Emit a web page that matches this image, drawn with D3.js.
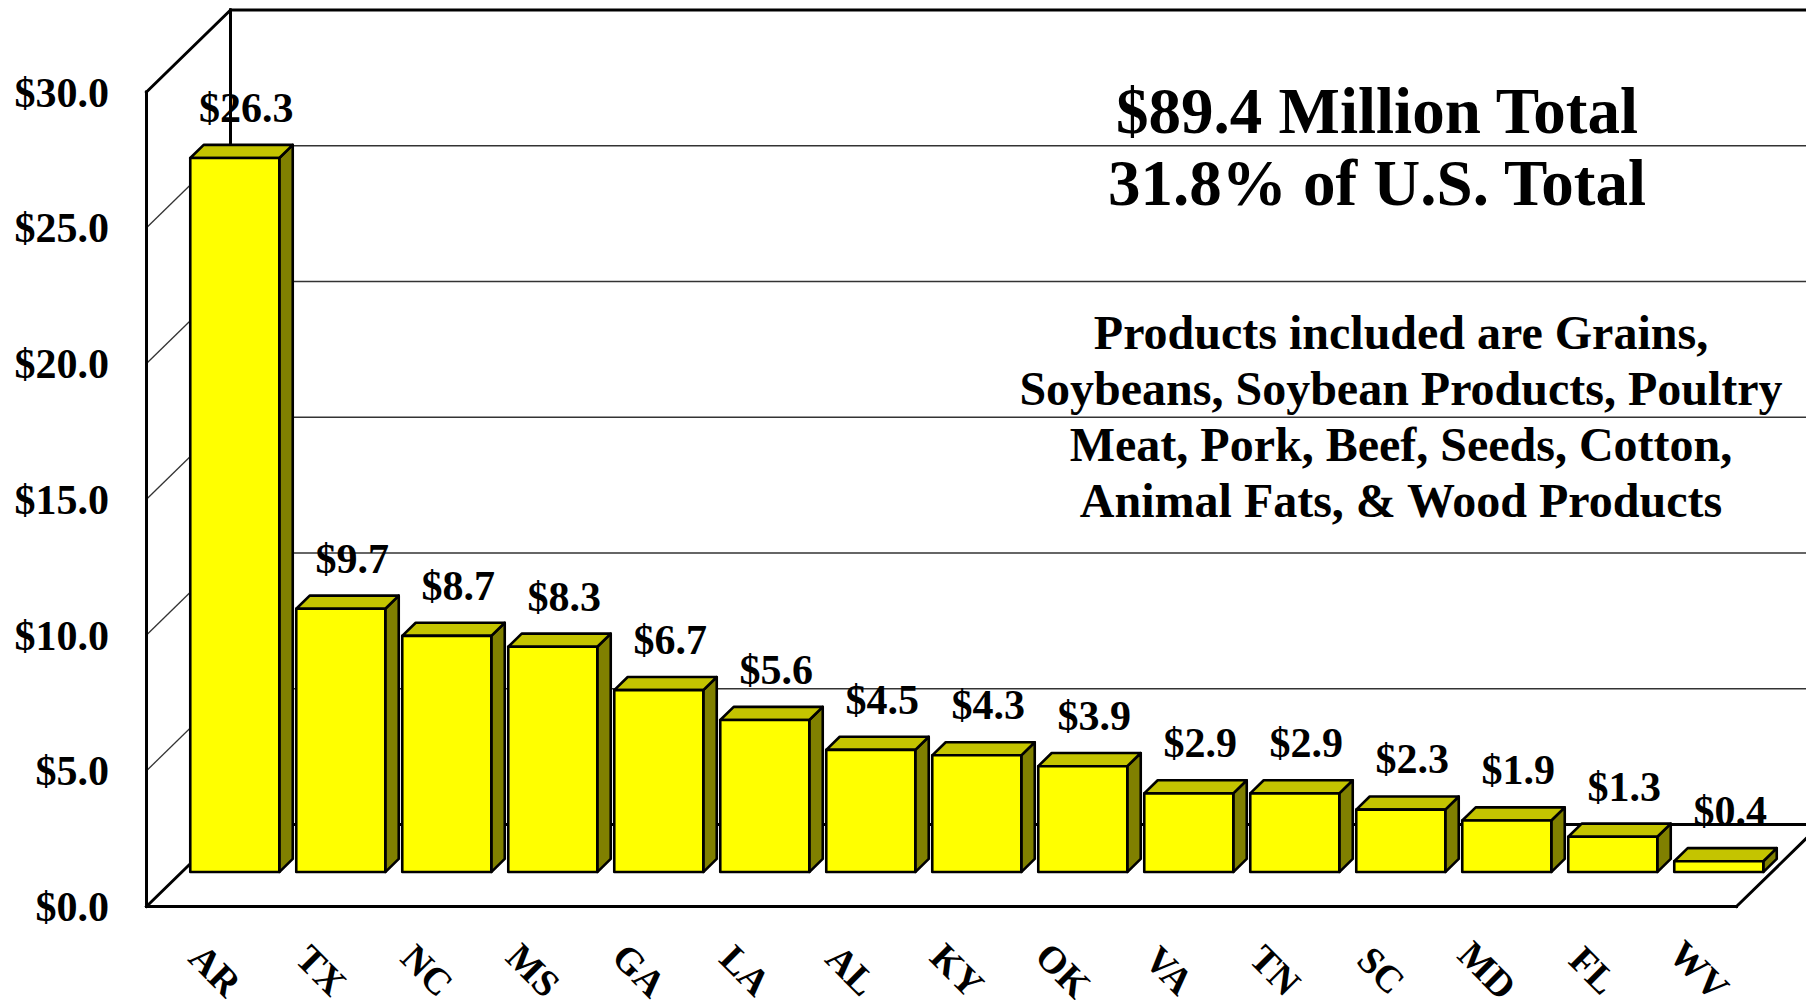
<!DOCTYPE html>
<html>
<head>
<meta charset="utf-8">
<script src="https://cdn.jsdelivr.net/npm/d3@7"></script>
<style>
  html, body { margin: 0; padding: 0; background: #fff; }
  svg { display: block; }
  text { font-family: "Liberation Serif", "Times New Roman", serif; font-weight: bold; fill: #000; }
</style>
</head>
<body>
<svg id="chart" width="1806" height="1000"></svg>
<script>
// ---- data ----
const states = ["AR","TX","NC","MS","GA","LA","AL","KY","OK","VA","TN","SC","MD","FL","WV"];
const values = [26.3, 9.7, 8.7, 8.3, 6.7, 5.6, 4.5, 4.3, 3.9, 2.9, 2.9, 2.3, 1.9, 1.3, 0.4];
const yTicks = [0, 5, 10, 15, 20, 25, 30];
const titleLines = ["$89.4 Million Total", "31.8% of U.S. Total"];
const noteLines = [
  "Products included are Grains,",
  "Soybeans, Soybean Products, Poultry",
  "Meat, Pork, Beef, Seeds, Cotton,",
  "Animal Fats, & Wood Products"
];

// ---- geometry ----
const svg = d3.select("#chart");
const frontLeft = 146.5, frontRight = 1736.5, floorY = 906.5, topY = 92;
const depthX = 84, depthY = -82;

const x = d3.scaleBand().domain(states).range([frontLeft, frontRight]).paddingInner(0.16).paddingOuter(0.08);
const y = d3.scaleLinear().domain([0, 30]).range([floorY, topY]);
const z = d3.scaleLinear().domain([0, 1]).range([0, 1]); // depth fraction
function P(px, v, d) {
  const t = z(d);
  return [px + t * depthX, y(v) + t * depthY];
}
const line = d3.line();

const gWall = svg.append("g");
yTicks.filter(v => v > 0 && v < 30).forEach(v => {
  gWall.append("path").attr("d", line([P(frontLeft, v, 1), P(frontRight + 40, v, 1)]))
    .attr("stroke", "#333").attr("stroke-width", 1.6).attr("fill", "none");
  gWall.append("path").attr("d", line([P(frontLeft, v, 0), P(frontLeft, v, 1)]))
    .attr("stroke", "#333").attr("stroke-width", 1.3).attr("fill", "none");
});
const thick = [
  [P(frontLeft, 30, 1), P(frontRight + 40, 30, 1)],
  [P(frontLeft, 0, 1), P(frontRight, 0, 1)],
  [P(frontLeft, 30, 1), P(frontLeft, 0, 1)],
  [P(frontLeft, 30, 0), P(frontLeft, 0, 0)],
  [P(frontLeft, 30, 0), P(frontLeft, 30, 1)],
  [P(frontLeft, 0, 0), P(frontLeft, 0, 1)],
  [P(frontLeft, 0, 0), P(frontRight, 0, 0)],
  [P(frontRight, 0, 0), P(frontRight, 0, 1)]
];
thick.forEach(seg => {
  gWall.append("path").attr("d", line(seg)).attr("stroke", "#000")
    .attr("stroke-width", 3).attr("fill", "none").attr("stroke-linecap", "square");
});

// ---- bars ----
const z0 = 0.42, z1 = 0.58;
const gBars = svg.append("g");
states.forEach((s, i) => {
  const v = values[i];
  const xl = x(s), xr = x(s) + x.bandwidth();
  const g = gBars.append("g");
  g.append("path").attr("d", line([P(xr, 0, z0), P(xr, 0, z1), P(xr, v, z1), P(xr, v, z0)]) + "Z")
    .attr("fill", "#808000").attr("stroke", "#000").attr("stroke-width", 2.6).attr("stroke-linejoin", "round");
  g.append("path").attr("d", line([P(xl, v, z0), P(xr, v, z0), P(xr, v, z1), P(xl, v, z1)]) + "Z")
    .attr("fill", "#C4C400").attr("stroke", "#000").attr("stroke-width", 2.6).attr("stroke-linejoin", "round");
  g.append("path").attr("d", line([P(xl, 0, z0), P(xr, 0, z0), P(xr, v, z0), P(xl, v, z0)]) + "Z")
    .attr("fill", "#FFFF00").attr("stroke", "#000").attr("stroke-width", 2.6).attr("stroke-linejoin", "round");
  const top = P(xl + x.bandwidth() / 2, v, z1);
  svg.append("text").attr("x", top[0] - 2).attr("y", top[1] - 23)
    .attr("text-anchor", "middle").attr("font-size", 42).text("$" + v.toFixed(1));
});

// ---- y axis labels ----
yTicks.forEach(v => {
  svg.append("text").attr("x", 109).attr("y", y(v)).attr("dy", "0.35em")
    .attr("text-anchor", "end").attr("font-size", 42).text("$" + v.toFixed(1));
});

// ---- x axis labels ----
states.forEach(s => {
  const cx = x(s) + x.bandwidth() / 2 + 16;
  svg.append("text").attr("transform", `translate(${cx},970) rotate(45)`)
    .attr("text-anchor", "middle").attr("dy", "0.35em").attr("font-size", 38).text(s);
});

// ---- title & note ----
titleLines.forEach((t, i) => {
  svg.append("text").attr("x", 1377).attr("y", 133 + i * 72)
    .attr("text-anchor", "middle").attr("font-size", 65).text(t);
});
noteLines.forEach((t, i) => {
  svg.append("text").attr("x", 1401).attr("y", 349 + i * 56)
    .attr("text-anchor", "middle").attr("font-size", 48).text(t);
});
</script>
</body>
</html>
